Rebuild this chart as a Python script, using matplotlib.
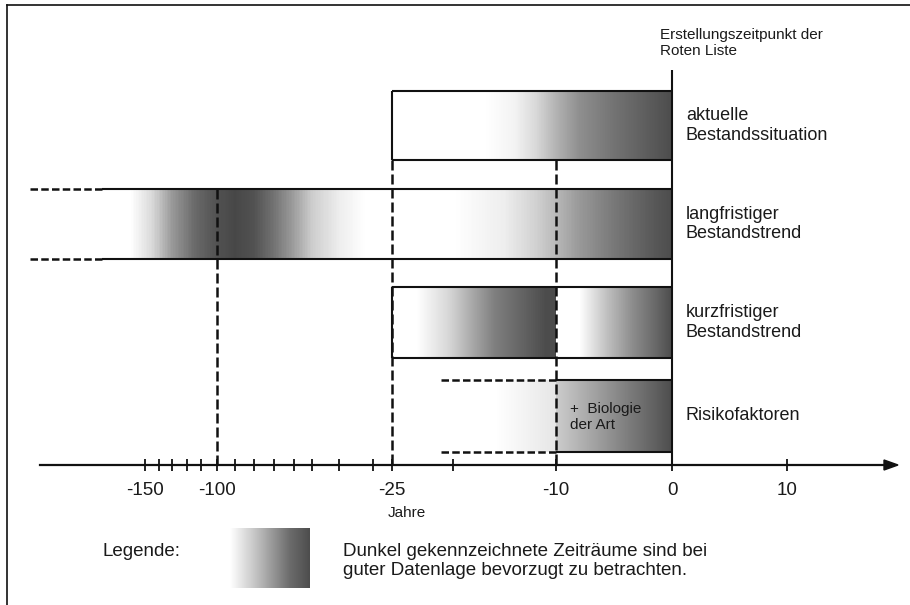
import matplotlib.pyplot as plt
import numpy as np
from matplotlib.patches import Polygon

plt.rcParams['font.family'] = ['Liberation Sans', 'DejaVu Sans']

# Zeitachse (nicht linear): Jahre und ihre Lage auf der Achse in Pixeln
achse_jahre = [-150, -140, -130, -120, -110, -100, -90, -80, -70, -60, -50, -40, -30, -25, -20, -10, 0, 10]
achse_px = [145, 159, 172, 187, 201, 217, 235, 254, 274, 294, 312, 339, 373, 392, 453, 556, 672, 787]
beschriftete_jahre = [-150, -100, -25, -10, 0, 10]

zeilen = ['aktuelle\nBestandssituation', 'langfristiger\nBestandstrend',
          'kurzfristiger\nBestandstrend', 'Risikofaktoren']

# Zeiträume in Jahren
aktuell_von, aktuell_bis = -25, 0
lang_offen, lang_von, lang_bis = -230, -180, 0
kurz_von, kurz_bis = -25, 0
risiko_offen, risiko_von, risiko_bis = -21, -10, 0
stichjahre = [-100, -25, -10]

# Grauverläufe (1 = weiß, 0 = schwarz), Stützstellen in Jahren
aktuell_jahre = [-25, -17, -14, -12, -10, -8, -5, -2, 0]
aktuell_grau = [1.0, 1.0, 0.95, 0.85, 0.7, 0.56, 0.45, 0.36, 0.3]
lang_jahre = [-230, -160, -145, -130, -115, -100, -90, -80, -70, -60, -50, -40, -32,
              -20, -15, -12, -10, -8, -5, -2, 0]
lang_grau = [1.0, 1.0, 0.85, 0.6, 0.42, 0.32, 0.28, 0.32, 0.45, 0.62, 0.8, 0.93, 1.0,
             1.0, 0.93, 0.82, 0.72, 0.6, 0.47, 0.36, 0.3]
kurz1_jahre = [-25, -23, -20.5, -18, -16, -13, -11, -10]
kurz1_grau = [1.0, 1.0, 0.85, 0.65, 0.5, 0.38, 0.3, 0.3]
kurz2_jahre = [-10, -8, -5.6, -3.4, -1.3, 0]
kurz2_grau = [1.0, 1.0, 0.75, 0.55, 0.4, 0.3]
risiko1_jahre = [-21, -16, -10]
risiko1_grau = [1.0, 1.0, 0.9]
risiko2_jahre = [-10, -7, -4, -1.5, 0]
risiko2_grau = [0.8, 0.65, 0.5, 0.38, 0.3]
legende_anteil = [0, 0.3, 0.55, 0.75, 1.0]
legende_grau = [1.0, 0.78, 0.58, 0.42, 0.3]

# Layout (Pixel von oben)
zeile_oben = [91, 189, 287, 380]
zeile_unten = [160, 259, 358, 452]
achse_y = 465
schwarz = '#111111'
textfarbe = '#1a1a1a'

# Skala: stückweise linear, außen linear verlängert
ja = np.array(achse_jahre, float)
px = np.array(achse_px, float)
links = (px[5] - px[0]) / (ja[5] - ja[0])
rechts = (px[-1] - px[-2]) / (ja[-1] - ja[-2])
ja_ext = np.r_[-2000, ja, 2000]
px_ext = np.r_[px[0] - links * (ja[0] + 2000), px, px[-1] + rechts * (2000 - ja[-1])]


def vor(x):
    return np.interp(x, ja_ext, px_ext)


def zurueck(p):
    return np.interp(p, px_ext, ja_ext)


fig = plt.figure(figsize=(9.1, 6.05), dpi=100)

# Hintergrund-Achse in Pixeln (Rahmen, Pfeil, Legende)
lg = fig.add_axes([0, 0, 1, 1])
lg.set_xlim(0, 910)
lg.set_ylim(605, 0)
lg.axis('off')

ax = fig.add_axes([0, 0, 1, 1])
ax.set_xscale('function', functions=(vor, zurueck))
ax.set_xlim(zurueck(0), zurueck(910))
ax.set_ylim(605, 0)
ax.patch.set_alpha(0)
for s in ['left', 'right', 'top']:
    ax.spines[s].set_visible(False)
ax.spines['bottom'].set_position(('data', achse_y))
ax.spines['bottom'].set_bounds(zurueck(40), zurueck(886))
ax.spines['bottom'].set_linewidth(1.6)
ax.spines['bottom'].set_color(schwarz)
ax.set_xticks(achse_jahre, [str(j) if j in beschriftete_jahre else '' for j in achse_jahre])
ax.tick_params(axis='x', direction='inout', length=9, width=1.3, color=schwarz,
               labelsize=13.5, labelcolor=textfarbe, pad=7.5)
ax.set_yticks([])


def verlauf(jahre, grau, oben, unten):
    xs = zurueck(np.linspace(vor(jahre[0]), vor(jahre[-1]), 400))
    mitte = (xs[:-1] + xs[1:]) / 2
    c = np.interp(mitte, jahre, grau)
    ax.pcolormesh(xs, [oben, unten], c[None, :], cmap='gray', vmin=0, vmax=1,
                  shading='flat', zorder=1)


verlauf(aktuell_jahre, aktuell_grau, zeile_oben[0], zeile_unten[0])
verlauf(lang_jahre, lang_grau, zeile_oben[1], zeile_unten[1])
verlauf(kurz1_jahre, kurz1_grau, zeile_oben[2], zeile_unten[2])
verlauf(kurz2_jahre, kurz2_grau, zeile_oben[2], zeile_unten[2])
verlauf(risiko1_jahre, risiko1_grau, zeile_oben[3], zeile_unten[3])
verlauf(risiko2_jahre, risiko2_grau, zeile_oben[3], zeile_unten[3])

lw = 1.5
strich = (0, (4, 1.6))
# aktuelle Bestandssituation
ax.hlines([zeile_oben[0], zeile_unten[0]], aktuell_von, aktuell_bis, color=schwarz, lw=lw, zorder=3)
ax.vlines(aktuell_von, zeile_oben[0], zeile_unten[0], color=schwarz, lw=lw, zorder=3)
# langfristiger Bestandstrend
ax.hlines([zeile_oben[1], zeile_unten[1]], lang_von, lang_bis, color=schwarz, lw=lw, zorder=3)
ax.hlines([zeile_oben[1], zeile_unten[1]], lang_offen, lang_von, color=schwarz, lw=1.8,
          linestyles=[(0, (3, 1.3))], zorder=3)
# kurzfristiger Bestandstrend
ax.hlines([zeile_oben[2], zeile_unten[2]], kurz_von, kurz_bis, color=schwarz, lw=lw, zorder=3)
ax.vlines(kurz_von, zeile_oben[2], zeile_unten[2], color=schwarz, lw=lw, zorder=3)
# Risikofaktoren
ax.hlines([zeile_oben[3], zeile_unten[3]], risiko_von, risiko_bis, color=schwarz, lw=lw, zorder=3)
ax.hlines([zeile_oben[3], zeile_unten[3]], risiko_offen, risiko_von, color=schwarz, lw=1.8,
          linestyles=[(0, (3, 1.3))], zorder=3)

# Hilfslinien
ax.vlines(stichjahre[0], zeile_oben[1], achse_y, color=schwarz, lw=1.8, linestyles=[strich], zorder=2)
ax.vlines(stichjahre[1:], zeile_unten[0], achse_y, color=schwarz, lw=1.8, linestyles=[strich], zorder=2)
ax.vlines(0, 70, achse_y, color=schwarz, lw=1.5, zorder=3)

for i, txt in enumerate(zeilen):
    ym = (zeile_oben[i] + zeile_unten[i]) / 2
    ax.annotate(txt, xy=(0, ym), xytext=(10, 0), textcoords='offset points',
                ha='left', va='center', fontsize=13, linespacing=1.2, color=textfarbe)

ax.annotate('Erstellungszeitpunkt der\nRoten Liste', xy=(0, 43), xytext=(-9, 0),
            textcoords='offset points', ha='left', va='center', fontsize=11,
            linespacing=1.25, color=textfarbe)
ax.annotate('+  Biologie\nder Art', xy=(-10, 417), xytext=(10, 0), textcoords='offset points',
            ha='left', va='center', fontsize=11, linespacing=1.25, color=textfarbe)
ax.annotate('Jahre', xy=(-25, 513), xytext=(-3, 0), textcoords='offset points',
            ha='left', va='center', fontsize=11, color=textfarbe)

# Rahmen und Pfeil
lg.plot([7, 7], [5, 605], color=schwarz, lw=1.2, clip_on=False)
lg.plot([7, 910], [5, 5], color=schwarz, lw=1.2, clip_on=False)
lg.add_patch(Polygon([[884, achse_y - 5], [898, achse_y], [884, achse_y + 5]],
                     closed=True, color=schwarz))

# Legende
lx = 230 + 80 * np.linspace(0, 1, 200)
lc = np.interp((lx[:-1] + lx[1:]) / 2, 230 + 80 * np.array(legende_anteil), legende_grau)
lg.pcolormesh(lx, [528, 588], lc[None, :], cmap='gray', vmin=0, vmax=1, shading='flat')
lg.text(103, 551, 'Legende:', ha='left', va='center', fontsize=13.5, color=textfarbe)
lg.text(343, 561, 'Dunkel gekennzeichnete Zeiträume sind bei\nguter Datenlage bevorzugt zu betrachten.',
        ha='left', va='center', fontsize=13.5, linespacing=1.1, color=textfarbe)

fig.savefig('out.png', dpi=100)
